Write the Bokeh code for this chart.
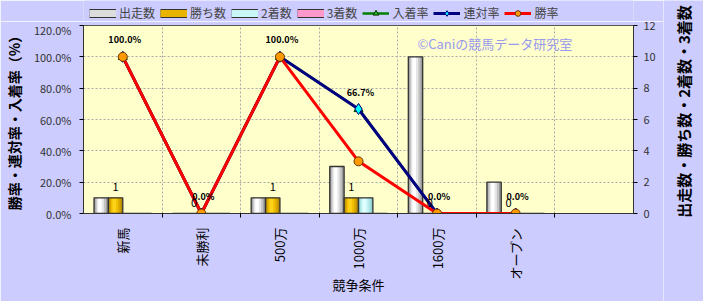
import math
import numpy as np
from bokeh.plotting import figure
from bokeh.layouts import row, column
from bokeh.models import (Range1d, LinearAxis, FixedTicker, NumeralTickFormatter,
                          Legend, LegendItem, Label, ColumnDataSource)
from bokeh.embed import file_html
from bokeh.resources import INLINE
from bokeh.core.properties import value

# ---------------- data ----------------
categories = ["新馬", "未勝利", "500万", "1000万", "1600万", "オープン"]
starts = [1, 0, 1, 3, 10, 2]          # 出走数
wins = [1, 0, 1, 1, 0, 0]             # 勝ち数
seconds = [0, 0, 0, 1, 0, 0]          # 2着数
thirds = [0, 0, 0, 0, 0, 0]           # 3着数
place_rate = [1.0, 0.0, 1.0, 0.667, 0.0, 0.0]   # 入着率
rentai_rate = [1.0, 0.0, 1.0, 0.667, 0.0, 0.0]  # 連対率
win_rate = [1.0, 0.0, 1.0, 0.333, 0.0, 0.0]     # 勝率
left_ticks = [0.0, 0.2, 0.4, 0.6, 0.8, 1.0, 1.2]
right_ticks = [0, 2, 4, 6, 8, 10, 12]

FONT = "Noto Sans CJK JP"
BG = "#ccccff"
n = len(categories)
slots = n + 1  # one empty column on the right as in the original
xc = np.arange(n, dtype=float)

# colours / styles
bar_shades = [
    ["#9a9a9a", "#c4c4c4", "#e6e6e6", "#ffffff"],
    ["#b88c00", "#d8a800", "#f0c000", "#ffd21a"],
    ["#8fcfcf", "#aee6e6", "#c8f6f6", "#e0ffff"],
    ["#d0609a", "#e880b4", "#ff99cc", "#ffb8dc"],
]
swatch_fill = ["#dcdcdc", "#e8b400", "#c8f6f6", "#ff99cc"]
bar_names = ["出走数", "勝ち数", "2着数", "3着数"]
line_specs = [  # name, line colour, width, marker, fill, edge, size
    ("入着率", "#008000", 2.5, "triangle", "#22bb22", "#003300", 9),
    ("連対率", "#000080", 3, "diamond", "#00ffff", "#000080", 11),
    ("勝率", "#ff0000", 3, "circle", "#ff9900", "#663300", 9),
]
rates = [place_rate, rentai_rate, win_rate]

LEG_H = 21

# ================= main chart =================
p = figure(width=663, height=301 - LEG_H, x_range=Range1d(-0.5, slots - 0.5),
           y_range=Range1d(0, 1.2), output_backend="svg", toolbar_location=None,
           min_border_left=77, min_border_right=30, min_border_top=25 - LEG_H,
           min_border_bottom=88, background_fill_color="#ffffcc",
           border_fill_color=BG)
p.outline_line_color = "#555555"
p.extra_y_ranges = {"cnt": Range1d(0, 12)}

yax = p.yaxis[0]
yax.ticker = FixedTicker(ticks=left_ticks)
yax.formatter = NumeralTickFormatter(format="0.0%")
yax.axis_label = "勝率・連対率・入着率（%）"
yax.axis_label_standoff = 7
yax.major_label_standoff = 8

xax = p.xaxis[0]
xax.ticker = FixedTicker(ticks=list(xc), minor_ticks=[i + 0.5 for i in range(n)])
xax.major_label_overrides = {i: c for i, c in enumerate(categories)}
xax.major_label_orientation = math.pi / 2
xax.major_tick_line_color = None
xax.major_label_standoff = 10
xax.axis_label = "競争条件"
xax.axis_label_standoff = -8

rax = LinearAxis(y_range_name="cnt", ticker=FixedTicker(ticks=right_ticks))
rax.major_label_standoff = 6
p.add_layout(rax, "right")

for ax in (yax, xax, rax):
    ax.axis_line_color = "#333333"
    ax.major_tick_in = 0
    ax.major_tick_out = 4
    ax.minor_tick_in = 0
    ax.minor_tick_out = 4
    ax.major_label_text_font = FONT
    ax.axis_label_text_font = FONT
    ax.axis_label_text_font_style = "normal"
    ax.axis_label_text_font_size = "13px"
    ax.axis_label_text_color = "#000000"
for ax in (yax, rax):
    ax.minor_tick_line_color = None
    ax.major_label_text_font_size = "11px"
    ax.major_label_text_color = "#333333"
xax.major_label_text_font_size = "13px"
xax.major_label_text_color = "#000000"
yax.axis_label_text_font_style = "bold"
yax.axis_label_text_font_size = "14px"

p.xgrid[0].ticker = FixedTicker(ticks=[i + 0.5 for i in range(n)])
p.ygrid[0].ticker = FixedTicker(ticks=left_ticks)
for g in (p.xgrid[0], p.ygrid[0]):
    g.grid_line_color = "#aaaaaa"
    g.grid_line_dash = "2 2"
    g.grid_line_width = 1

# bars (shaded like cylinders)
bw = 0.183
for k, vals in enumerate([starts, wins, seconds, thirds]):
    x = xc + (k - 1.5) * bw
    shades = bar_shades[k]
    for i, c in enumerate(shades):
        f = 1 - i / len(shades)
        p.vbar(x=x - (1 - f) * bw * 0.12, top=vals, width=bw * f, fill_color=c,
               line_color=None, y_range_name="cnt")
    p.vbar(x=x, top=vals, width=bw, fill_color=None, line_color="#333333",
           line_width=1.3, y_range_name="cnt")

# rate lines
for (name, lc, lw, mk, fc, ec, sz), vals in zip(line_specs, rates):
    p.line(xc, vals, line_color=lc, line_width=lw)
    p.scatter(xc, vals, marker=mk, size=sz, fill_color=fc, line_color=ec)

# value labels
lab = ColumnDataSource(dict(x=xc, y=rentai_rate,
                            t=[f"{v * 100:.1f}%" for v in rentai_rate]))
p.text(x="x", y="y", text="t", source=lab, text_align="center",
       text_baseline="middle", y_offset=-17, x_offset=2, text_font=value(FONT),
       text_font_size="9px", text_font_style="bold", text_color="#000000")
wl = ColumnDataSource(dict(x=xc - 0.5 * bw, y=wins, t=[str(v) for v in wins]))
p.text(x="x", y="y", text="t", source=wl, text_align="center",
       text_baseline="middle", y_offset=-11, text_font=value(FONT),
       text_font_size="11px", text_color="#000000", y_range_name="cnt")

p.add_layout(Label(x=3.75, y=1.085, text="©Caniの競馬データ研究室",
                   text_font=FONT, text_font_size="13px", text_color="#9999ee",
                   text_baseline="middle"))

# ================= legend strip (top) =================
lf = figure(width=663, height=LEG_H, x_range=Range1d(0, 1), y_range=Range1d(0, 1),
            x_axis_type=None, y_axis_type=None, output_backend="svg",
            toolbar_location=None, min_border=0, min_border_left=0,
            min_border_right=0, min_border_top=0, min_border_bottom=0,
            background_fill_color=BG, border_fill_color=BG)
lf.outline_line_color = None
lf.grid.visible = False

hx, hy = [-10, -9], [-10, -9]   # legend-only renderers, kept outside the view
items = []
for name, fill in zip(bar_names, swatch_fill):
    r1 = lf.line(hx, hy, line_color="#333333", line_width=9)
    r2 = lf.line(hx, hy, line_color=fill, line_width=7)
    items.append(LegendItem(label=name, renderers=[r1, r2]))
for (name, lc, lw, mk, fc, ec, sz) in line_specs:
    r1 = lf.line(hx, hy, line_color=lc, line_width=lw)
    r2 = lf.scatter(hx, hy, marker=mk, size=sz, fill_color=fc, line_color=ec)
    items.append(LegendItem(label=name, renderers=[r1, r2]))
legend = Legend(items=items, location=(6, 0), orientation="horizontal",
                glyph_width=27, glyph_height=14, label_standoff=3, spacing=5,
                padding=0, margin=0, border_line_color=None,
                background_fill_alpha=0, label_text_font=FONT,
                label_text_font_size="12px", label_height=14)
lf.add_layout(legend)

# ================= right-hand axis title =================
rf = figure(width=40, height=301, x_range=Range1d(0, 40), y_range=Range1d(0, 301),
            x_axis_type=None, y_axis_type=None, output_backend="svg",
            toolbar_location=None, min_border=0, min_border_left=0,
            min_border_right=0, min_border_top=0, min_border_bottom=0,
            background_fill_color=BG, border_fill_color=BG)
rf.outline_line_color = None
rf.grid.visible = False
rf.add_layout(Label(x=20, y=190, text="出走数・勝ち数・2着数・3着数",
                    angle=math.pi / 2, text_align="center",
                    text_baseline="middle", text_font=FONT,
                    text_font_size="15px", text_font_style="bold",
                    text_color="#000000"))

layout = row(column(lf, p, spacing=0), rf, spacing=0)
open("out.html", "w").write(file_html(layout, INLINE))
